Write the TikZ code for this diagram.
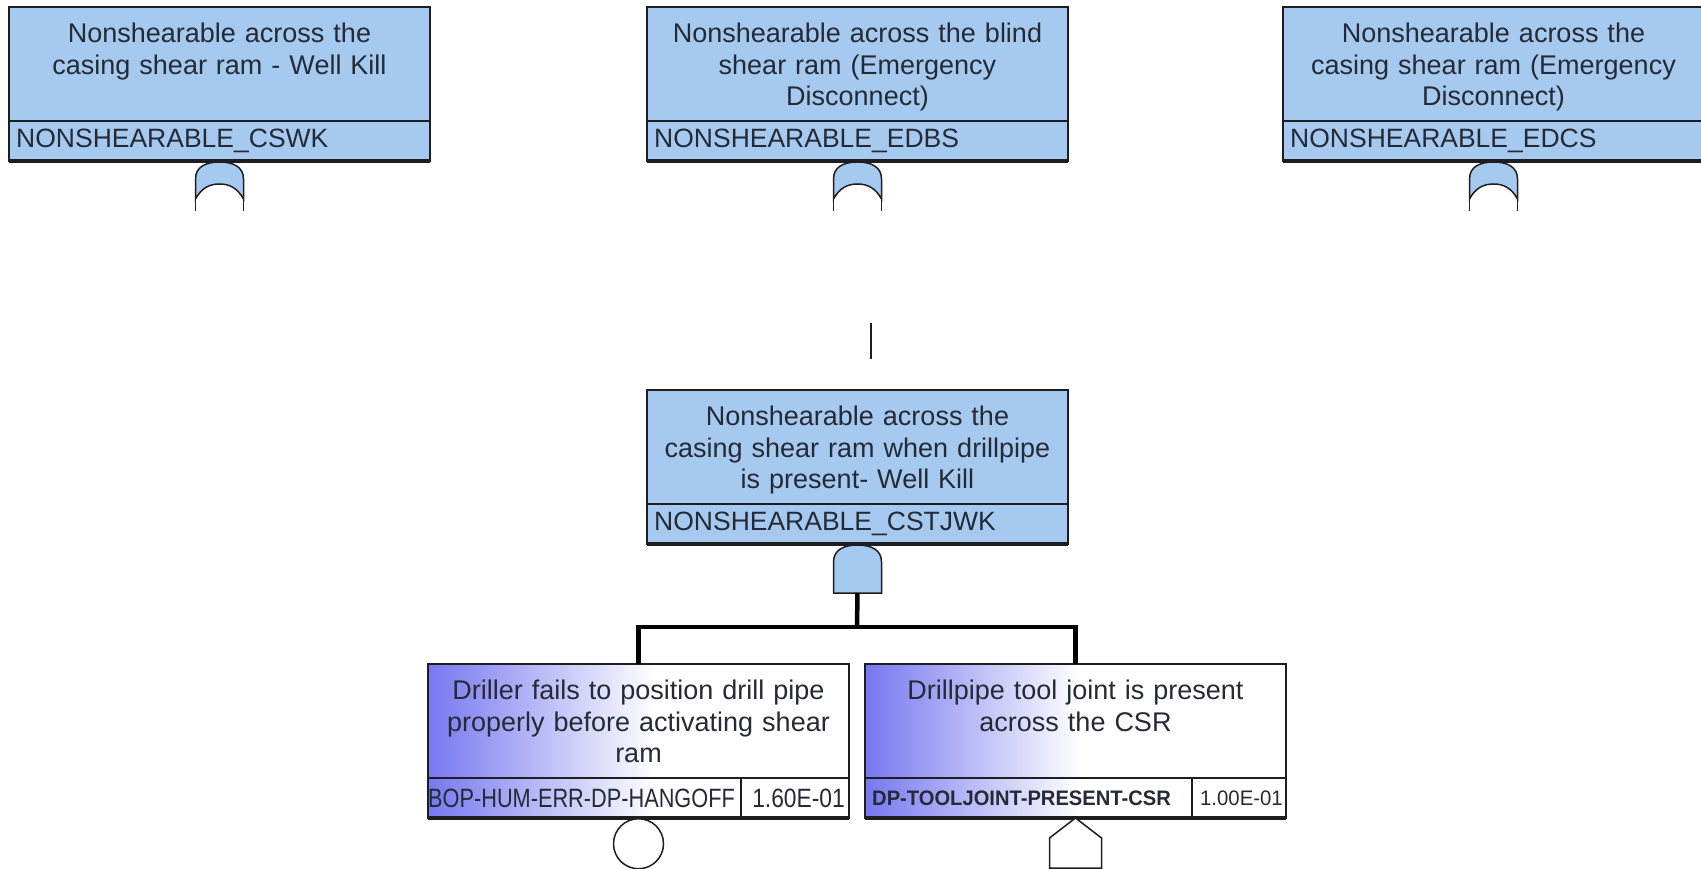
\documentclass[tikz,border=0pt]{standalone}
\usepackage{fontspec}
\setmainfont{Liberation Sans}
\usetikzlibrary{positioning}

\definecolor{gateblue}{RGB}{166,201,239}
\definecolor{evblue}{RGB}{118,120,240}
\definecolor{inkgray}{RGB}{36,42,54}
\definecolor{edge}{RGB}{30,30,34}

\tikzset{
  boxline/.style = {draw=edge, line width=1.6pt},
  descbox/.style = {boxline, minimum width=421pt, minimum height=114pt, anchor=north west, inner sep=0pt, outer sep=0pt},
  idbox/.style = {boxline, minimum width=421pt, minimum height=40pt, anchor=north west, inner sep=0pt, outer sep=0pt},
  desctext/.style = {anchor=north, yshift=-16pt, inner sep=0pt, text width=415pt, align=center,
    text=inkgray, font=\fontsize{27}{31.5}\selectfont},
  idtext/.style = {anchor=west, xshift=7pt, inner sep=0pt, text=inkgray, font=\fontsize{26.5}{30}\selectfont},
  base/.style = {edge, line width=4pt},
  gate/.style = {draw=edge, line width=1.5pt, fill=gateblue},
  link/.style = {black, line width=4.5pt}
}

\begin{document}
\begin{tikzpicture}[x=1pt, y=-1pt]
  \useasboundingbox (0,0) rectangle (1701,869);
  \clip (0,0) rectangle (1701,869);

  % transferred gates along the top
  \node [descbox, fill=gateblue] (cswk) at (9,7) {};
  \node [idbox, fill=gateblue] (cswkid) at (cswk.south west) {};
  \node [desctext] at (cswk.north) {Nonshearable across the\\casing shear ram - Well Kill};
  \node [idtext] at (cswkid.west) {NONSHEARABLE\_CSWK};

  \node [descbox, fill=gateblue] (edbs) at (647,7) {};
  \node [idbox, fill=gateblue] (edbsid) at (edbs.south west) {};
  \node [desctext] at (edbs.north) {Nonshearable across the blind\\shear ram (Emergency\\Disconnect)};
  \node [idtext] at (edbsid.west) {NONSHEARABLE\_EDBS};

  \node [descbox, fill=gateblue] (edcs) at (1283,7) {};
  \node [idbox, fill=gateblue] (edcsid) at (edcs.south west) {};
  \node [desctext] at (edcs.north) {Nonshearable across the\\casing shear ram (Emergency\\Disconnect)};
  \node [idtext] at (edcsid.west) {NONSHEARABLE\_EDCS};

  \foreach \b in {cswkid, edbsid, edcsid} {
    \draw [base] (\b.south west) -- (\b.south east);
    \begin{scope}[shift={(\b.south)}]
      \filldraw [gate] (-24,38) -- (-24,18) .. controls (-24,6) and (-14,1) .. (0,1)
        .. controls (14,1) and (24,6) .. (24,18) -- (24,38)
        .. controls (18,27) and (10,23) .. (0,23) .. controls (-10,23) and (-18,27) .. (-24,38) -- cycle;
      \draw [edge, line width=1.5pt] (-24,38) -- (-24,50) (24,38) -- (24,50);
    \end{scope}
  }

  % AND gate
  \coordinate (stub) at (871,323);
  \draw [edge, line width=1.2pt] (stub) -- ++(0,36);

  \node [descbox, fill=gateblue] (cstjwk) at (647,390) {};
  \node [idbox, fill=gateblue] (cstjwkid) at (cstjwk.south west) {};
  \node [desctext] at (cstjwk.north) {Nonshearable across the\\casing shear ram when drillpipe\\is present- Well Kill};
  \node [idtext] at (cstjwkid.west) {NONSHEARABLE\_CSTJWK};
  \draw [base] (cstjwkid.south west) -- (cstjwkid.south east);
  \begin{scope}[shift={(cstjwkid.south)}]
    \filldraw [gate] (-24,49) -- (-24,18) .. controls (-24,6) and (-14,1) .. (0,1)
      .. controls (14,1) and (24,6) .. (24,18) -- (24,49) -- cycle;
  \end{scope}
  \coordinate (andout) at ([yshift=-49pt]cstjwkid.south);

  % basic events
  \shade [left color=evblue, right color=white] (428,664) rectangle (655,818);
  \node [descbox] (hangoff) at (428,664) {};
  \node [idbox] (hangoffid) at (hangoff.south west) {};
  \node [desctext] at (hangoff.north) {Driller fails to position drill pipe\\properly before activating shear\\ram};
  \node [idtext, xshift=-7pt] at (hangoffid.west) {\scalebox{0.82}[1]{BOP-HUM-ERR-DP-HANGOFF}};
  \draw [boxline] ([xshift=-108pt]hangoffid.north east) -- ([xshift=-108pt]hangoffid.south east);
  \node [idtext, anchor=east, xshift=-11pt] at (hangoffid.east) {\scalebox{0.86}[1]{1.60E-01}};
  \draw [base] (hangoffid.south west) -- (hangoffid.south east);
  \node [draw=edge, line width=1.5pt, circle, fill=white, minimum size=50pt, inner sep=0pt, anchor=north]
    (hangoffev) at (hangoffid.south) {};

  \shade [left color=evblue, right color=white] (865,664) rectangle (1080,818);
  \node [descbox] (tool) at (865,664) {};
  \node [idbox] (toolid) at (tool.south west) {};
  \node [desctext] at (tool.north) {Drillpipe tool joint is present\\across the CSR};
  \node [idtext, font=\fontsize{21}{26}\selectfont\bfseries] at (toolid.west) {\scalebox{0.96}[1]{DP-TOOLJOINT-PRESENT-CSR}};
  \draw [boxline] ([xshift=-94pt]toolid.north east) -- ([xshift=-94pt]toolid.south east);
  \node [idtext, anchor=east, xshift=-10pt, font=\fontsize{21}{26}\selectfont] at (toolid.east) {\scalebox{0.97}[1]{1.00E-01}};
  \draw [base] (toolid.south west) -- (toolid.south east);
  \draw [edge, line width=1.5pt, fill=white] (toolid.south) -- ++(26,20) -- ++(0,30) -- ++(-52,0) -- ++(0,-30) -- cycle;

  % links under the AND gate
  \coordinate (bar) at (857,627);
  \draw [link] (andout) -- (bar);
  \draw [link] (hangoff.north) |- (bar) -| (tool.north);
\end{tikzpicture}
\end{document}
